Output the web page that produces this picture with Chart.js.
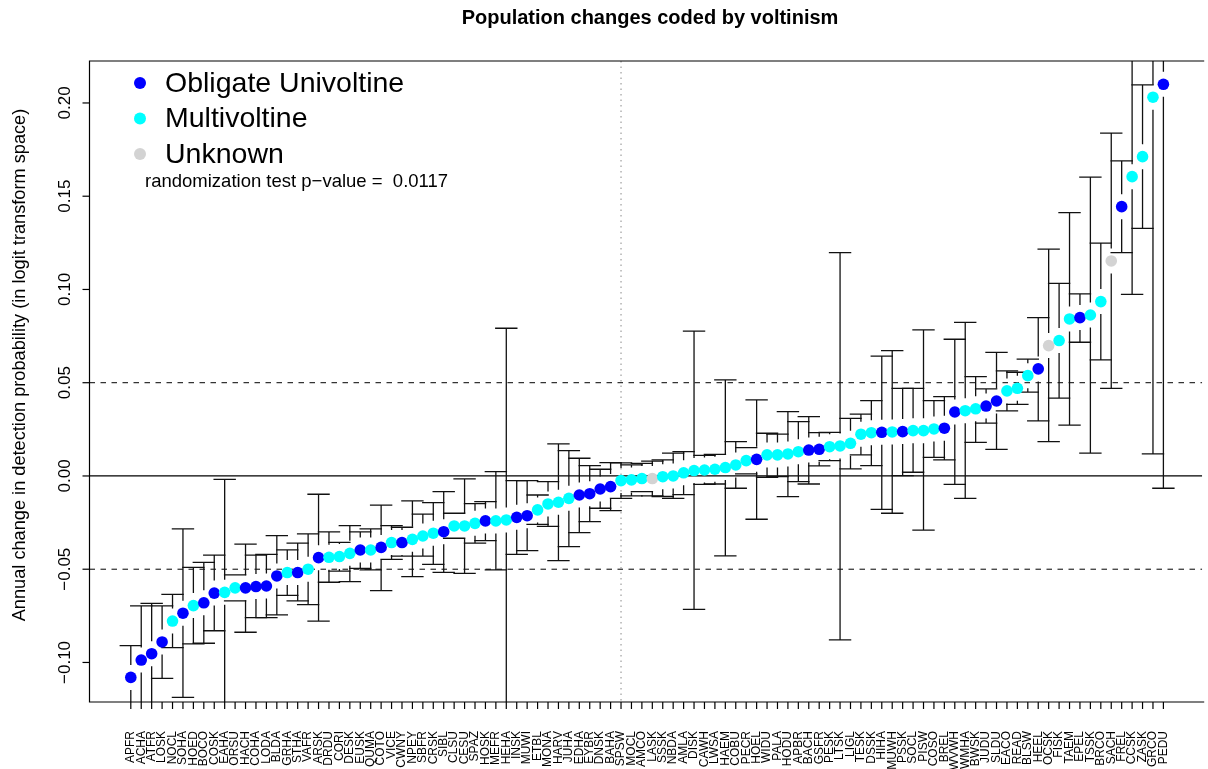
<!DOCTYPE html>
<html>
<head>
<meta charset="utf-8">
<script src="https://cdn.jsdelivr.net/npm/chart.js@4/dist/chart.umd.min.js"></script>
<style>
  html, body { margin: 0; padding: 0; background: #fff; overflow: hidden; }
  canvas { display: block; }
</style>
</head>
<body>
<canvas id="c" width="1208" height="769"></canvas>
<script>
// Species codes, ordered by estimated annual change
const species = [
  'APFR','ACHA','ATFR','LOSK','NOCL','SOHA','HOED','BOCO','COSK','EAHA',
  'ORSU','HACH','COHA','LODA','BLDA','GRHA','STHA','VAFR','ARSK','DRDU',
  'CORI','DESK','EUSK','QUMA','COTO','VICE','CWNY','NPEY','SBFR','CRSK',
  'SIBL','CLSU','CESU','SPAZ','HOSK','MEFR','HEHA','INSK','MUWI','ETBL',
  'MONA','HARV','JUHA','EDHA','EYBR','DNSK','BAHA','SPSW','MOCL','AMCO',
  'LASK','SSSK','NBDA','AMLA','DISK','CAWH','LWSA','HAEM','COBU','PECR',
  'HOEL','WIDU','PALA','HODU','APBR','BACH','GSFR','PESK','LTSK','LIGL',
  'TESK','DSSK','HIHA','MUWH','PSSK','SOCL','PISW','COSO','BREL','WVWH',
  'WMHA','BWSK','JUDU','SLDU','EACO','READ','BLSW','HEEL','OCSK','FISK',
  'TAEM','EPEL','TSSK','BRCO','SACH','FREL','CCSK','ZASK','GRCO','PEDU'
];

// Annual change in detection probability (logit scale)
const estimate = [
  -0.1080,-0.0987,-0.0953,-0.0890,-0.0778,-0.0736,-0.0695,-0.0680,-0.0628,-0.0624,
  -0.0600,-0.0600,-0.0593,-0.0590,-0.0536,-0.0518,-0.0518,-0.0500,-0.0438,-0.0436,
  -0.0432,-0.0415,-0.0397,-0.0397,-0.0383,-0.0357,-0.0357,-0.0340,-0.0322,-0.0307,
  -0.0299,-0.0268,-0.0268,-0.0254,-0.0241,-0.0241,-0.0236,-0.0222,-0.0213,-0.0182,
  -0.0150,-0.0141,-0.0120,-0.0102,-0.0095,-0.0070,-0.0057,-0.0025,-0.0021,-0.0014,
  -0.0014,-0.0004, 0.0000, 0.0017, 0.0029, 0.0032, 0.0036, 0.0045, 0.0059, 0.0082,
   0.0089, 0.0113, 0.0113, 0.0118, 0.0130, 0.0139, 0.0143, 0.0157, 0.0161, 0.0175,
   0.0224, 0.0232, 0.0234, 0.0236, 0.0238, 0.0243, 0.0243, 0.0252, 0.0256, 0.0343,
   0.0350, 0.0360, 0.0375, 0.0402, 0.0456, 0.0470, 0.0538, 0.0574, 0.0699, 0.0726,
   0.0842, 0.0849, 0.0863, 0.0935, 0.1153, 0.1444, 0.1605, 0.1712, 0.2031, 0.2100
];

// Lower confidence limits
const lowerCI = [
  -0.1250,-0.1277,-0.1223,-0.1085,-0.0920,-0.1187,-0.0900,-0.0897,-0.0830,-0.1230,
  -0.0670,-0.0838,-0.0760,-0.0760,-0.0745,-0.0640,-0.0670,-0.0690,-0.0778,-0.0570,
  -0.0510,-0.0567,-0.0495,-0.0504,-0.0615,-0.0447,-0.0430,-0.0540,-0.0430,-0.0474,
  -0.0517,-0.0334,-0.0522,-0.0360,-0.0347,-0.0504,-0.1264,-0.0420,-0.0400,-0.0260,
  -0.0270,-0.0454,-0.0379,-0.0304,-0.0245,-0.0173,-0.0186,-0.0120,-0.0107,-0.0084,
  -0.0107,-0.0110,-0.0120,-0.0100,-0.0715,-0.0045,-0.0043,-0.0429,-0.0066, 0.0011,
  -0.0232,-0.0007,-0.0004,-0.0111,-0.0030,-0.0043, 0.0054, 0.0082,-0.0879, 0.0038,
   0.0113, 0.0055,-0.0179,-0.0200, 0.0002, 0.0020,-0.0290, 0.0100, 0.0086,-0.0045,
  -0.0120, 0.0180, 0.0283, 0.0143, 0.0349, 0.0384, 0.0449, 0.0295, 0.0184, 0.0417,
   0.0273, 0.0717, 0.0122, 0.0622, 0.0470, 0.1197, 0.0974, 0.1328, 0.0118,-0.0066
];

// Upper confidence limits
const upperCI = [
  -0.0910,-0.0697,-0.0683,-0.0697,-0.0635,-0.0284,-0.0490,-0.0463,-0.0424,-0.0018,
  -0.0530,-0.0365,-0.0424,-0.0420,-0.0320,-0.0396,-0.0360,-0.0310,-0.0098,-0.0300,
  -0.0356,-0.0266,-0.0300,-0.0284,-0.0156,-0.0266,-0.0275,-0.0134,-0.0205,-0.0143,
  -0.0084,-0.0200,-0.0016,-0.0148,-0.0138, 0.0023, 0.0792,-0.0025,-0.0025,-0.0102,
  -0.0030, 0.0172, 0.0136, 0.0095, 0.0055, 0.0036, 0.0071, 0.0070, 0.0059, 0.0068,
   0.0080, 0.0086, 0.0122, 0.0130, 0.0777, 0.0110, 0.0116, 0.0515, 0.0184, 0.0152,
   0.0408, 0.0229, 0.0224, 0.0345, 0.0291, 0.0318, 0.0232, 0.0234, 0.1197, 0.0309,
   0.0332, 0.0404, 0.0643, 0.0672, 0.0470, 0.0470, 0.0783, 0.0404, 0.0425, 0.0733,
   0.0824, 0.0533, 0.0467, 0.0663, 0.0563, 0.0556, 0.0627, 0.0849, 0.1216, 0.1033,
   0.1412, 0.0976, 0.1602, 0.1248, 0.1838, 0.1690, 0.2240, 0.2097, 0.3940, 0.4266
];

// Voltinism: U = obligate univoltine, M = multivoltine, X = unknown
const voltinism = [
  'U','U','U','U','M','U','M','U','U','M',
  'M','U','U','U','U','M','U','M','U','M',
  'M','M','U','M','U','M','U','M','M','M',
  'U','M','M','M','U','M','M','U','U','M',
  'M','M','M','U','U','U','U','M','M','M',
  'X','M','M','M','M','M','M','M','M','M',
  'U','M','M','M','M','U','U','M','M','M',
  'M','M','U','M','U','M','M','M','U','U',
  'M','M','U','U','M','M','M','U','X','M',
  'M','U','M','M','X','U','M','M','M','U'
];

const groupCodes  = ['U', 'M', 'X'];
const groupNames  = ['Obligate Univoltine', 'Multivoltine', 'Unknown'];
const groupColors = ['#0000FF', '#00FFFF', '#D3D3D3'];

const yTickValues = [-0.10, -0.05, 0.00, 0.05, 0.10, 0.15, 0.20];
const yTickLabels = ['\u22120.10', '\u22120.05', '0.00', '0.05', '0.10', '0.15', '0.20'];
const dashedLevels = [-0.05, 0.05];
const dividerSpecies = 'SPSW';
const pValueText = 'randomization test p\u2212value =  0.0117';
const chartTitle = 'Population changes coded by voltinism';
const yAxisTitle = 'Annual change in detection probability (in logit transform space)';

const FONT = '"Liberation Sans", Arial, Helvetica, sans-serif';
const colorOf = code => groupColors[groupCodes.indexOf(code)];

// Error bars, reference lines, frame, axes and legend
const rPlot = {
  id: 'rPlot',
  beforeDatasetsDraw(chart) {
    const { ctx, chartArea: a, scales: { x, y } } = chart;
    ctx.save();
    ctx.beginPath();
    ctx.rect(a.left, a.top, a.right - a.left, a.bottom - a.top);
    ctx.clip();

    // zero line
    ctx.strokeStyle = '#000';
    ctx.lineWidth = 1.2;
    ctx.beginPath();
    const y0 = y.getPixelForValue(0);
    ctx.moveTo(a.left, y0); ctx.lineTo(a.right, y0);
    ctx.stroke();

    // +/- 0.05 dashed
    ctx.setLineDash([5.5, 5.5]);
    ctx.lineWidth = 1;
    dashedLevels.forEach(v => {
      const py = y.getPixelForValue(v);
      ctx.beginPath();
      ctx.moveTo(a.left, py); ctx.lineTo(a.right, py);
      ctx.stroke();
    });

    // dotted divider
    ctx.setLineDash([1.5, 4]);
    ctx.strokeStyle = '#8a8a8a';
    const px = x.getPixelForValue(species.indexOf(dividerSpecies));
    ctx.beginPath();
    ctx.moveTo(px, a.top); ctx.lineTo(px, a.bottom);
    ctx.stroke();
    ctx.setLineDash([]);

    // confidence intervals, with a gap around each point
    const gap = 12.5, cap = 11.2;
    ctx.strokeStyle = '#111';
    ctx.lineWidth = 1.3;
    species.forEach((s, i) => {
      const cx = x.getPixelForValue(i);
      const cy = y.getPixelForValue(estimate[i]);
      const pu = y.getPixelForValue(upperCI[i]);
      const pl = y.getPixelForValue(lowerCI[i]);
      ctx.beginPath();
      if (cy - gap > pu) { ctx.moveTo(cx, cy - gap); ctx.lineTo(cx, pu); }
      if (cy + gap < pl) { ctx.moveTo(cx, cy + gap); ctx.lineTo(cx, pl); }
      ctx.moveTo(cx - cap, pu); ctx.lineTo(cx + cap, pu);
      ctx.moveTo(cx - cap, pl); ctx.lineTo(cx + cap, pl);
      ctx.stroke();
    });
    ctx.restore();
  },
  afterDraw(chart) {
    const { ctx, chartArea: a, scales: { x, y } } = chart;
    ctx.save();
    ctx.strokeStyle = '#000';
    ctx.lineWidth = 1.2;

    // frame (right edge falls off the canvas)
    ctx.beginPath();
    ctx.moveTo(a.right + 2, a.top); ctx.lineTo(a.left, a.top);
    ctx.lineTo(a.left, a.bottom); ctx.lineTo(a.right + 2, a.bottom);
    ctx.stroke();

    // y ticks and rotated labels
    ctx.fillStyle = '#000';
    ctx.font = '17px ' + FONT;
    yTickValues.forEach((v, k) => {
      const py = y.getPixelForValue(v);
      ctx.beginPath();
      ctx.moveTo(a.left, py); ctx.lineTo(a.left - 7, py);
      ctx.stroke();
      ctx.save();
      ctx.translate(a.left - 20, py);
      ctx.rotate(-Math.PI / 2);
      ctx.textAlign = 'center';
      ctx.textBaseline = 'alphabetic';
      ctx.fillText(yTickLabels[k], 0, 0);
      ctx.restore();
    });

    // x ticks and vertical species labels
    ctx.font = '12px ' + FONT;
    species.forEach((s, i) => {
      const px = x.getPixelForValue(i);
      ctx.beginPath();
      ctx.moveTo(px, a.bottom); ctx.lineTo(px, a.bottom + 7);
      ctx.stroke();
      ctx.save();
      ctx.translate(px, a.bottom + 29);
      ctx.rotate(-Math.PI / 2);
      ctx.textAlign = 'right';
      ctx.textBaseline = 'middle';
      ctx.fillText(s, 0, 0);
      ctx.restore();
    });

    // y axis title
    ctx.save();
    ctx.font = '18.2px ' + FONT;
    ctx.translate(25, 365);
    ctx.rotate(-Math.PI / 2);
    ctx.textAlign = 'center';
    ctx.textBaseline = 'alphabetic';
    ctx.fillText(yAxisTitle, 0, 0);
    ctx.restore();

    // main title
    ctx.font = 'bold 20px ' + FONT;
    ctx.textAlign = 'center';
    ctx.textBaseline = 'middle';
    ctx.fillText(chartTitle, 650, 18);

    // legend
    const legendY = [83, 118.5, 154];
    ctx.textAlign = 'left';
    ctx.font = '28.5px ' + FONT;
    groupNames.forEach((name, k) => {
      ctx.fillStyle = groupColors[k];
      ctx.beginPath();
      ctx.arc(140, legendY[k], 6, 0, Math.PI * 2);
      ctx.fill();
      ctx.fillStyle = '#000';
      ctx.fillText(name, 165, legendY[k] + 1);
    });
    ctx.font = '18.5px ' + FONT;
    ctx.fillText(pValueText, 145, 182);
    ctx.restore();
  }
};

new Chart(document.getElementById('c'), {
  type: 'scatter',
  data: {
    datasets: [{
      data: species.map((s, i) => ({ x: i, y: estimate[i] })),
      pointRadius: 5.8,
      pointHoverRadius: 5.8,
      pointBorderWidth: 0,
      pointBackgroundColor: voltinism.map(colorOf),
      pointBorderColor: voltinism.map(colorOf),
      showLine: false
    }]
  },
  options: {
    responsive: false,
    animation: false,
    devicePixelRatio: 1,
    layout: { padding: { left: 89.5, right: 0, top: 61, bottom: 67 } },
    scales: {
      x: { type: 'linear', min: -3.96, max: 102.72, display: false },
      y: { type: 'linear', min: -0.1212, max: 0.2225, display: false }
    },
    plugins: { legend: { display: false }, tooltip: { enabled: false } }
  },
  plugins: [rPlot]
});
</script>
</body>
</html>
